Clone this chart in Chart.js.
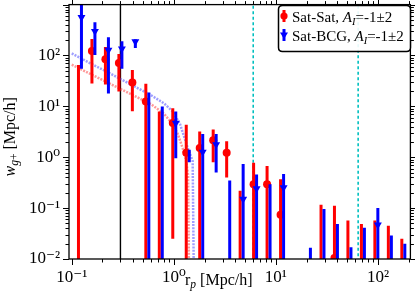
<!DOCTYPE html>
<html><head><meta charset="utf-8">
<script src="https://cdn.jsdelivr.net/npm/chart.js@4/dist/chart.umd.min.js"></script>
<style>html,body{margin:0;padding:0;background:#fff}#wrap{width:415px;height:297px}</style>
</head><body><div id="wrap"><canvas id="c" width="415" height="297"></canvas></div>
<script>
// ---- data ----
const satSatX  = [0.1164,0.1577,0.2138,0.2897,0.3926,0.532,0.721,0.977,1.324,1.794,2.432,3.295,4.466,6.05,8.20,11.12,15.07,20.4,27.7,37.5,50.8,68.9,93.3,126.5,171.4];
const satSatY  = [null,122,84,71,29.5,12.4,null,4.7,1.23,1.52,2.15,1.22,null,0.295,0.295,0.074,null,null,null,0.0105,null,null,null,null,null];
const satSatHi = [65,210,146,107,52,27.8,7.9,9.2,4.37,3.2,3.5,2.06,0.22,0.78,0.67,0.37,null,null,0.116,0.111,0.057,0.049,0.057,0.045,0.025];
const satSatLo = [null,28,27,19.5,8,null,null,0.025,null,null,0.8,0.4,null,null,null,null,null,null,null,null,null,null,null,null,null]; // null: below zero

const satBcgX  = [0.1245,0.1687,0.2288,0.310,0.420,0.569,0.771,1.045,1.417,1.920,2.60,3.53,4.78,6.47,8.77,11.9,16.1,21.8,29.6,40.1,54.4,73.7,99.8,135.4,183.4];
const satBcgY  = [562,300,128,136,187,null,null,4.7,null,1.27,1.78,null,0.15,0.242,null,0.253,null,null,null,null,null,null,0.047,null,null];
const satBcgHi = [1100,450,229,190,209,18.8,9.9,7.9,1.4,2.86,2.86,0.35,0.74,0.46,0.295,0.47,null,0.0167,0.096,0.049,0.017,0.041,0.1,0.029,0.02];
const satBcgLo = [55,102,17.8,55,140,null,null,0.96,0.8,null,0.5,null,null,null,null,null,null,null,null,null,null,null,null,null,null];

const modelSatSatX = [0.1,0.15,0.2,0.3,0.45,0.6,0.8,0.98,1.1,1.22,1.32,1.38,1.41];
const modelSatSatY = [66,44,33,22,14.7,11,7.2,4.4,2.8,1.52,0.84,0.45,0.005];
const modelSatBcgX = [0.1,0.15,0.2,0.3,0.45,0.6,0.8,0.98,1.15,1.37,1.53,1.57];
const modelSatBcgY = [110,71,53,34.5,22.4,16.5,11.5,7.9,4.5,1.52,0.84,0.005];

const blackLineX = [0.3];
const cyanLineX  = [6, 64];

const xTickValues = [0.1, 1, 10, 100];
const xTickLabels = ['10\u207B\u00B9','10\u2070','10\u00B9','10\u00B2'];
const yTickValues = [0.01, 0.1, 1, 10, 100];
const yTickLabels = ['10\u207B\u00B2','10\u207B\u00B9','10\u2070','10\u00B9','10\u00B2'];

const X_MIN = 0.094, X_MAX = 208, Y_MIN = 0.01, Y_MAX = 1000;
const RED = '#ff0000', BLUE = '#0000ff', CYAN = '#00bfbf';
const SERIF = '"Liberation Serif","DejaVu Serif",serif';

const errSeries = {
  satSat: {x: satSatX, hi: satSatHi, lo: satSatLo, color: RED},
  satBcg: {x: satBcgX, hi: satBcgHi, lo: satBcgLo, color: BLUE}
};

const vline = (xv) => [{x: xv, y: 1e-4}, {x: xv, y: 1e5}];

const datasets = [
  {label:'Sat-BCG', type:'scatter', data: satBcgX.map((x,i)=>({x, y: satBcgY[i]})),
   pointStyle:'triangle', rotation:180, pointRadius:4.6, backgroundColor:BLUE, borderWidth:0, order:0, clip:0, errKey:'satBcg'},
  {label:'Sat-Sat', type:'scatter', data: satSatX.map((x,i)=>({x, y: satSatY[i]})),
   pointStyle:'circle', pointRadius:4, backgroundColor:RED, borderWidth:0, order:1, clip:0, errKey:'satSat'},
  {label:'model Sat-Sat', type:'line', data: modelSatSatX.map((x,i)=>({x, y: modelSatSatY[i]})),
   borderColor:'rgba(255,70,70,0.55)', borderWidth:2.5, borderDash:[2,1.2], pointRadius:0, tension:0, order:2, clip:0},
  {label:'model Sat-BCG', type:'line', data: modelSatBcgX.map((x,i)=>({x, y: modelSatBcgY[i]})),
   borderColor:'rgba(80,80,255,0.55)', borderWidth:2.5, borderDash:[2,1.2], pointRadius:0, tension:0, order:2, clip:0},
  ...blackLineX.map(v => ({label:'cut', type:'line', data: vline(v), borderColor:'#000', borderWidth:1.4, pointRadius:0, order:3, clip:0})),
  ...cyanLineX.map(v => ({label:'scale', type:'line', data: vline(v), borderColor:CYAN, borderWidth:1.6, borderDash:[3,2.5], pointRadius:0, order:3, clip:0}))
];

const errorBarPlugin = {
  id: 'errorBars',
  beforeDatasetDraw(chart, args) {
    const ds = chart.data.datasets[args.index];
    if (!ds.errKey) return;
    const s = errSeries[ds.errKey];
    const {ctx, chartArea: a, scales: {x, y}} = chart;
    ctx.save();
    ctx.beginPath(); ctx.rect(a.left, a.top, a.right - a.left, a.bottom - a.top); ctx.clip();
    ctx.lineWidth = 3; ctx.strokeStyle = s.color; ctx.lineCap = 'butt';
    s.x.forEach((xv, i) => {
      const hi = s.hi[i]; if (hi == null) return;
      const lo = s.lo[i];
      const px = x.getPixelForValue(xv);
      const pHi = y.getPixelForValue(hi);
      const pLo = (lo == null) ? a.bottom + 5 : y.getPixelForValue(lo);
      ctx.beginPath(); ctx.moveTo(px, pHi); ctx.lineTo(px, pLo); ctx.stroke();
    });
    ctx.restore();
  }
};

function drawRich(ctx, parts, x, y) {
  let cx = x;
  parts.forEach(p => {
    ctx.font = p.font;
    ctx.fillText(p.t, cx, y + (p.dy || 0));
    cx += ctx.measureText(p.t).width;
  });
  return cx;
}
function richWidth(ctx, parts) {
  let w = 0;
  parts.forEach(p => { ctx.font = p.font; w += ctx.measureText(p.t).width; });
  return w;
}

const framePlugin = {
  id: 'frame',
  afterDraw(chart) {
    const {ctx, chartArea: a, scales: {x, y}} = chart;
    ctx.save();
    // ticks on all four sides
    ctx.strokeStyle = '#000'; ctx.lineWidth = 1;
    for (let d = -3; d <= 3; d++) {
      for (let m = 1; m <= 9; m++) {
        const v = m * Math.pow(10, d);
        const L = m === 1 ? 6 : 3.5;
        if (v >= X_MIN && v <= X_MAX) {
          const px = Math.round(x.getPixelForValue(v)) + 0.5;
          ctx.beginPath();
          ctx.moveTo(px, a.bottom); ctx.lineTo(px, a.bottom + L);
          ctx.moveTo(px, a.top); ctx.lineTo(px, a.top - L);
          ctx.stroke();
        }
        if (v >= Y_MIN && v <= Y_MAX) {
          const py = Math.round(y.getPixelForValue(v)) + 0.5;
          ctx.beginPath();
          ctx.moveTo(a.left, py); ctx.lineTo(a.left - L, py);
          ctx.moveTo(a.right, py); ctx.lineTo(a.right + L, py);
          ctx.stroke();
        }
      }
    }
    ctx.lineWidth = 1.3;
    ctx.strokeRect(a.left, a.top, a.right - a.left, a.bottom - a.top);

    // legend
    const lx = 278.5, ly = 5.5, lw = 132, lh = 46, r = 4;
    ctx.beginPath();
    ctx.moveTo(lx + r, ly); ctx.lineTo(lx + lw - r, ly); ctx.quadraticCurveTo(lx + lw, ly, lx + lw, ly + r);
    ctx.lineTo(lx + lw, ly + lh - r); ctx.quadraticCurveTo(lx + lw, ly + lh, lx + lw - r, ly + lh);
    ctx.lineTo(lx + r, ly + lh); ctx.quadraticCurveTo(lx, ly + lh, lx, ly + lh - r);
    ctx.lineTo(lx, ly + r); ctx.quadraticCurveTo(lx, ly, lx + r, ly);
    ctx.closePath();
    ctx.fillStyle = 'rgba(255,255,255,0.9)'; ctx.fill();
    ctx.strokeStyle = '#000'; ctx.lineWidth = 1.5; ctx.stroke();

    // legend markers
    ctx.lineWidth = 3;
    ctx.strokeStyle = RED; ctx.fillStyle = RED;
    ctx.beginPath(); ctx.moveTo(284, 10); ctx.lineTo(284, 22); ctx.stroke();
    ctx.beginPath(); ctx.arc(284, 16, 3.6, 0, Math.PI * 2); ctx.fill();
    ctx.strokeStyle = BLUE; ctx.fillStyle = BLUE;
    ctx.beginPath(); ctx.moveTo(284, 29); ctx.lineTo(284, 41); ctx.stroke();
    ctx.beginPath(); ctx.moveTo(280, 32.5); ctx.lineTo(288, 32.5); ctx.lineTo(284, 39); ctx.closePath(); ctx.fill();

    ctx.fillStyle = '#000'; ctx.textBaseline = 'alphabetic'; ctx.textAlign = 'left';
    const fN = '15px ' + SERIF, fI = 'italic 15px ' + SERIF, fS = 'italic 10.5px ' + SERIF;
    drawRich(ctx, [{t:'Sat-Sat, ', font:fN}, {t:'A', font:fI}, {t:'I', font:fS, dy:3}, {t:'=-1\u00B12', font:fN}], 292, 21.5);
    drawRich(ctx, [{t:'Sat-BCG, ', font:fN}, {t:'A', font:fI}, {t:'I', font:fS, dy:3}, {t:'=-1\u00B12', font:fN}], 292, 40.5);

    // x title
    const tN = '16px ' + SERIF, tI = 'italic 16px ' + SERIF, tS = 'italic 11.5px ' + SERIF, tSN = '11.5px ' + SERIF;
    drawRich(ctx, [{t:'r', font:tN}, {t:'p', font:tS, dy:3}, {t:' [Mpc/h]', font:tN}], 185, 285);

    // y title (rotated)
    const yParts = [{t:'w', font:tI}, {t:'g', font:tS, dy:3}, {t:'+', font:tSN, dy:3}, {t:' [Mpc/h]', font:tN}];
    const w = richWidth(ctx, yParts);
    ctx.translate(15, (a.top + a.bottom) / 2 + 5);
    ctx.rotate(-Math.PI / 2);
    drawRich(ctx, yParts, -w / 2, 0);
    ctx.restore();
  }
};

new Chart(document.getElementById('c'), {
  type: 'scatter',
  data: { datasets },
  options: {
    responsive: false, animation: false, devicePixelRatio: 1,
    layout: { padding: { top: 3, right: 3, left: 0, bottom: 0 } },
    plugins: { legend: { display: false }, tooltip: { enabled: false } },
    scales: {
      x: {
        type: 'logarithmic', min: X_MIN, max: X_MAX, position: 'bottom',
        afterBuildTicks: s => { s.ticks = xTickValues.map(v => ({ value: v })); },
        afterFit: s => { s.height = 38; s.paddingLeft = 0; s.paddingRight = 0; },
        ticks: { callback: (v, i) => xTickLabels[i], font: { family: SERIF, size: 17 }, color: '#000', padding: 8, maxRotation: 0, autoSkip: false },
        grid: { display: false, drawTicks: false }, border: { display: false }
      },
      y: {
        type: 'logarithmic', min: Y_MIN, max: Y_MAX, position: 'left',
        afterBuildTicks: s => { s.ticks = yTickValues.map(v => ({ value: v })); },
        afterFit: s => { s.width = 69; s.paddingTop = 0; s.paddingBottom = 0; },
        ticks: { callback: (v, i) => yTickLabels[i], font: { family: SERIF, size: 17 }, color: '#000', padding: 9, autoSkip: false },
        grid: { display: false, drawTicks: false }, border: { display: false }
      }
    }
  },
  plugins: [errorBarPlugin, framePlugin]
});
</script>
</body></html>
